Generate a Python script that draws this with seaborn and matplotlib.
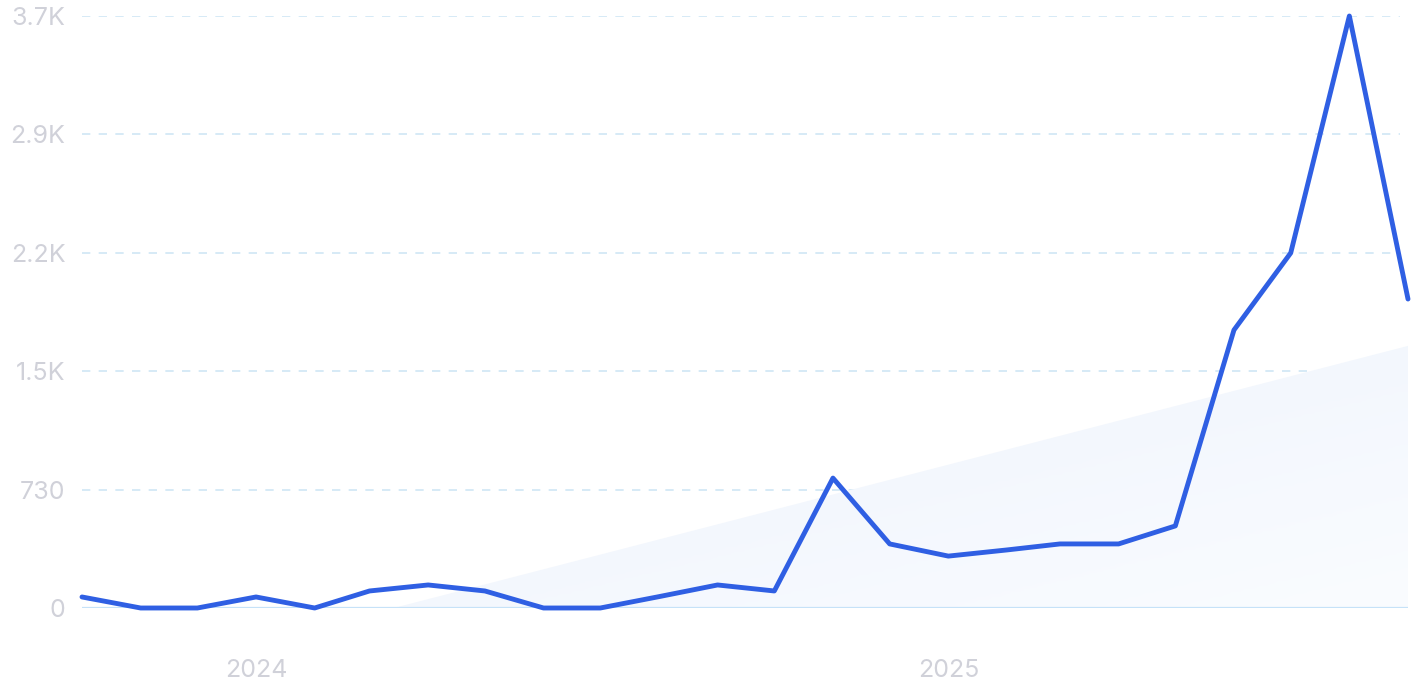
import numpy as np
import pandas as pd
import matplotlib
matplotlib.use("Agg")
import matplotlib.pyplot as plt
import seaborn as sns
from matplotlib.colors import LinearSegmentedColormap

# Monthly values, Oct 2023 .. Sep 2025
months = pd.date_range("2023-10-01", "2025-09-01", freq="MS")
values = [68, 0, 0, 68, 0, 105, 142, 105, 0, 0, 70, 142,
          105, 801, 395, 320, 358, 395, 395, 506, 1714, 2189, 3650, 1905]
y_ticks = [0, 730, 1460, 2190, 2920, 3650]
y_labels = ["0", "730", "1.5K", "2.2K", "2.9K", "3.7K"]
x_ticks = [pd.Timestamp("2024-01-01"), pd.Timestamp("2025-01-01")]
x_labels = ["2024", "2025"]

df = pd.DataFrame({"month": months, "value": values})

sns.set_theme(style="white")
plt.rcParams["font.family"] = ["Inter", "DejaVu Sans"]

fig = plt.figure(figsize=(14.14, 7), dpi=100)
ax = fig.add_axes([82 / 1414, 1 - 608 / 700, (1408 - 82) / 1414, (608 - 16) / 700])

# linear trend with gradient fill (clipped at zero)
xnum = np.arange(len(values))
slope, intercept = np.polyfit(xnum, values, 1)
xf = np.linspace(0, len(values) - 1, 400)
tf = np.clip(slope * xf + intercept, 0, None)
xd = months[0] + pd.to_timedelta(xf * (months[-1] - months[0]).days / (len(values) - 1), unit="D")
poly = ax.fill_between(xd, 0, tf, color="none", lw=0)

ax.set_xlim(months[0], months[-1])
ax.set_ylim(0, 3650)
cmap = LinearSegmentedColormap.from_list("g", ["#eaf1fc", "#fafcff"])
gx, gy = np.meshgrid(np.linspace(0, 1, 200), np.linspace(0, 1, 100))
grad = (gx * 0.7 + gy * 0.6) / 1.3
x0, x1 = ax.get_xlim()
img = ax.imshow(grad, extent=[x0, x1, 0, 1700], origin="upper", cmap=cmap,
                aspect="auto", zorder=1)
img.set_clip_path(poly.get_paths()[0], transform=ax.transData)
ax.set_xlim(x0, x1)
ax.set_ylim(0, 3650)

# grid
for t in y_ticks[1:]:
    ax.axhline(t, xmax=0.994, color="#cfe6f5", lw=1.2, ls=(0, (5, 5)), zorder=0)
ax.axhline(0, color="#c6e2f8", lw=1.6, zorder=2)

sns.lineplot(data=df, x="month", y="value", ax=ax, color="#2f5fe3",
             lw=3.5, zorder=3, clip_on=False)

ax.set_yticks(y_ticks)
ax.set_yticklabels(y_labels)
ax.set_xticks(x_ticks)
ax.set_xticklabels(x_labels)
ax.tick_params(axis="y", length=0, pad=12, labelsize=18, labelcolor="#d0d1d9")
ax.tick_params(axis="x", length=0, pad=37, labelsize=18, labelcolor="#d0d1d9")
ax.set_xlabel("")
ax.set_ylabel("")
for s in ax.spines.values():
    s.set_visible(False)
ax.set_facecolor("none")

fig.savefig("out.png", dpi=100)
